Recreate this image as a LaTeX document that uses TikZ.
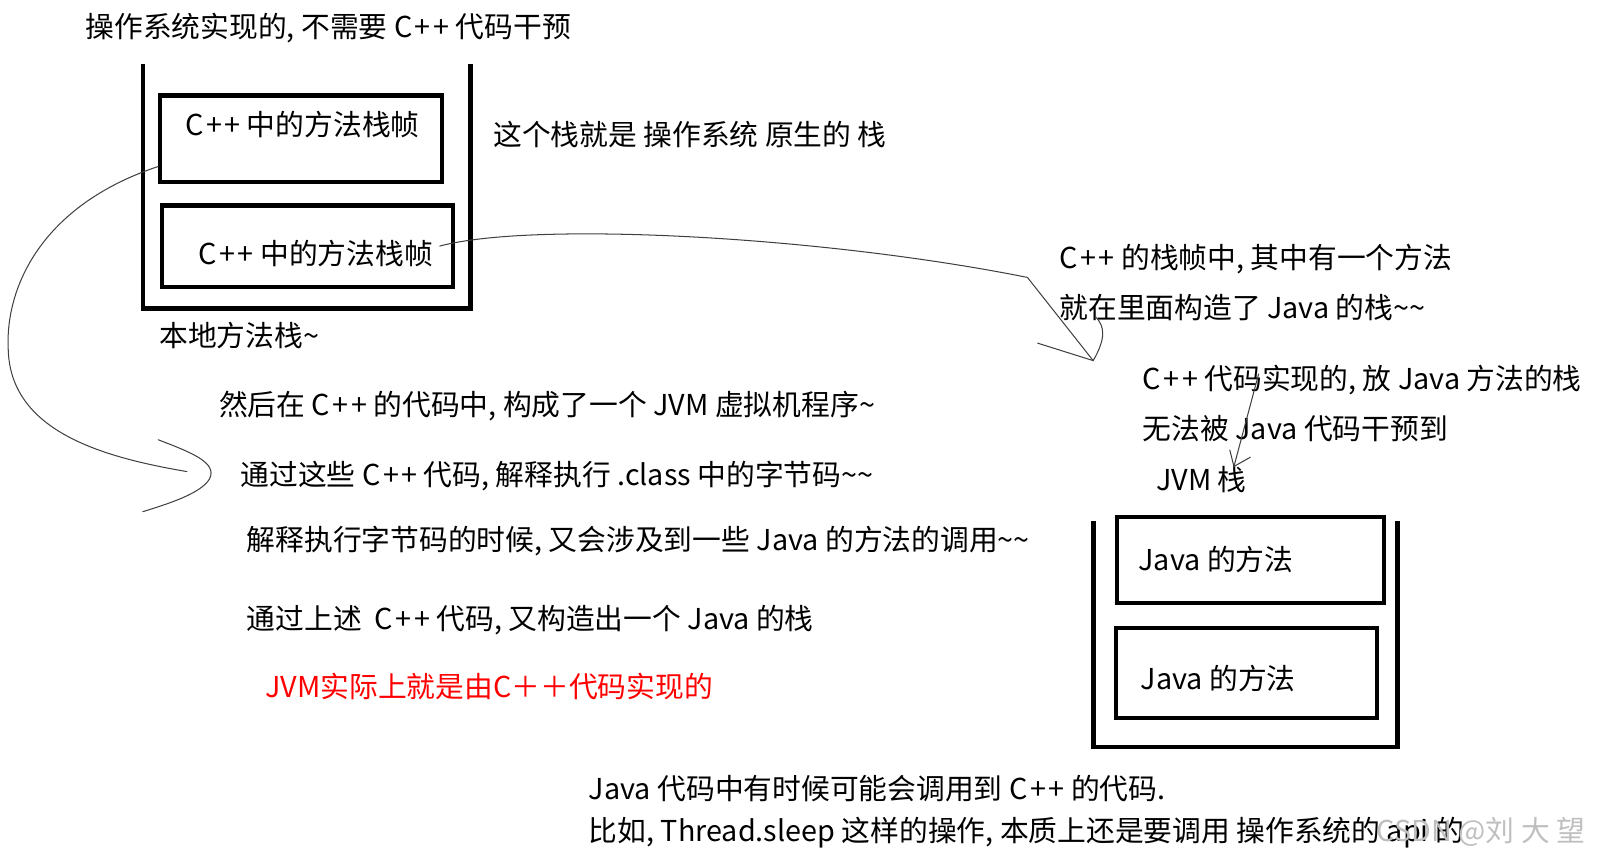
\documentclass[tikz,border=0pt]{standalone}
\usepackage{fontspec}
\setmainfont{Noto Sans CJK SC}
\newcommand\tld{\textasciitilde}
\newcommand\cpp{C\kern2.5pt+\kern2.5pt+}
\begin{document}
\begin{tikzpicture}[x=1pt, y=-1pt,
  txt/.style={anchor=west, inner sep=0pt, font=\fontsize{28}{31}\selectfont},
  frame/.style={draw, line width=4pt, inner sep=0pt},
  stack/.style={line width=4.5pt},
  conn/.style={line width=1pt, black!75, line cap=round, line join=round}]
\useasboundingbox (0,0) rectangle (1568,838);

% native (C++) stack
\node[txt] (title) at (83,27) {操作系统实现的, 不需要 \cpp\ 代码干预};
\draw[stack] (139,62) |- (458,300) -- (458,62);
\node[frame, minimum width=274, minimum height=84] (f1) at (293,135) {};
\node[txt] (t1) at (180,121) {\cpp\ 中的方法栈帧};
\node[frame, minimum width=283, minimum height=79] (f2) at (299.5,239.5) {};
\node[txt] (t2) at (193,247) {\cpp\ 中的方法栈帧};
\node[txt] (nat) at (155,327) {本地方法栈\tld};
\node[txt] (os) at (480,131) {这个栈就是 操作系统 原生的 栈};

% notes on the right
\node[txt] (c1) at (1031,252) {\cpp\ 的栈帧中, 其中有一个方法};
\node[txt] (c2) at (1031,299) {就在里面构造了 Java 的栈\tld\tld};
\node[txt] (j1) at (1112,370) {\cpp\ 代码实现的, 放 Java 方法的栈};
\node[txt] (j2) at (1112,417) {无法被 Java 代码干预到};
\node[txt] (jvm) at (1125,467) {JVM 栈};

% middle text
\node[txt] (s1) at (213,395) {然后在 \cpp\ 的代码中, 构成了一个 JVM 虚拟机程序\tld};
\node[txt] (s2) at (234,463) {通过这些 \cpp\ 代码, 解释执行 .class 中的字节码\tld\tld};
\node[txt] (s3) at (240,527) {解释执行字节码的时候, 又会涉及到一些 Java 的方法的调用\tld\tld};
\node[txt] (s4) at (240,604) {通过上述\ \ \cpp\ 代码, 又构造出一个 Java 的栈};
\node[txt, text=red] (red) at (258,668) {JVM实际上就是由C＋＋代码实现的};

% JVM stack
\draw[stack] (1064,507) |- (1360,727) -- (1360,507);
\node[frame, minimum width=260, minimum height=84] (m1) at (1217,545) {};
\node[txt] (jm1) at (1108,545) {Java 的方法};
\node[frame, minimum width=254, minimum height=88] (m2) at (1213,655) {};
\node[txt] (jm2) at (1110,660) {Java 的方法};

% bottom
\node[txt] (b1) at (573,768) {Java 代码中有时候可能会调用到 \cpp\ 的代码.};
\node[txt] (b2) at (573,810) {比如, Thread.sleep 这样的操作, 本质上还是要调用 操作系统的 api 的};
\node[txt, text=black!25] (wm) at (1340,810) {CSDN @刘 大 望};

% connectors
\coordinate (tip1) at (182,459);
\draw[conn] (f1.191) .. controls (40,200) and (5,280) .. (8,340)
  .. controls (10,420) and (100,445) .. (tip1);
\draw[conn] (154,428) .. controls (185,440) and (212,450) .. (204,466)
  .. controls (196,480) and (165,490) .. (139,498);

\coordinate (tip2) at (1064,351);
\draw[conn] ([xshift=-15pt]f2.east) .. controls (520,215) and (800,230) .. (1000,270) -- (tip2);
\draw[conn] (1010,334) -- (tip2) .. controls (1076,330) and (1076,318) .. (1066,308);

\coordinate (tip3) at (1201,454);
\draw[conn] ([xshift=113pt,yshift=6pt]j1.west) -- (tip3);
\draw[conn] (1197,438) -- (tip3) -- (1217,445);
\end{tikzpicture}
\end{document}
